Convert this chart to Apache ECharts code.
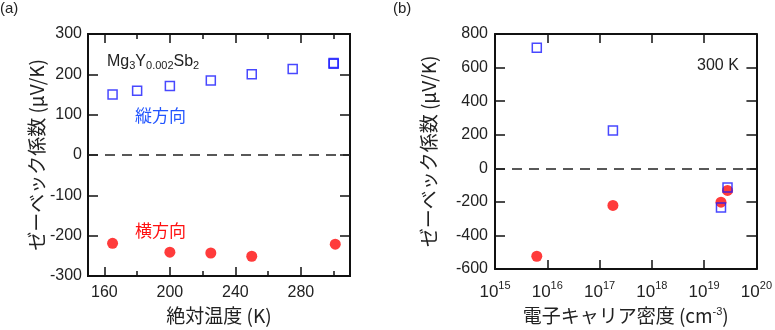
<!DOCTYPE html>
<html><head><meta charset="utf-8">
<script src="https://cdn.jsdelivr.net/npm/echarts@6/dist/echarts.min.js"></script>
<style>html,body{margin:0;padding:0;background:#fff}#c{width:775px;height:330px}</style>
</head><body><div id="c"></div>
<script>
// Panel (a): Seebeck coefficient vs temperature
const tempLong = [165, 180, 200, 225, 250, 275, 300, 300];
const seebeckLong = [150, 159, 171, 185, 200, 213, 226, 228];
const tempTrans = [165, 200, 225, 250, 301];
const seebeckTrans = [-219, -241, -243, -251, -221];
const aMajorTicks = [160, 200, 240, 280];
const aMinorTicks = [180, 220, 260, 300];
// Panel (b): Seebeck coefficient vs carrier density (300 K)
const carrierLong = [6.3e15, 1.8e17, 2.1e19, 2.8e19];
const seebeckLongB = [718, 225, -233, -115];
const carrierTrans = [6.3e15, 1.8e17, 2.1e19, 2.8e19];
const seebeckTransB = [-524, -221, -202, -132];

const LAT = '"Liberation Sans", Arial, "Noto Sans CJK JP", sans-serif';
const JP = '"Noto Sans CJK JP", "Liberation Sans", sans-serif';
const AX = '#111';
const BLUE = '#1a1aff';
const RED = '#ff0a0a';

function zip(a, b) { return a.map((v, i) => [v, b[i]]); }

const lineBase = { show: true, onZero: false, lineStyle: { color: AX, width: 2 } };

function xAxisA(pos, ticks, len) {
  return {
    type: 'value', gridIndex: 0, position: pos, min: 150, max: 310,
    axisLine: lineBase, splitLine: { show: false },
    axisTick: { show: true, inside: true, length: len, customValues: ticks, lineStyle: { color: AX, width: 1.5 } },
    axisLabel: { show: false }
  };
}

const option = {
  animation: false,
  grid: [
    { left: 88, top: 34, width: 262, height: 243 },
    { left: 495, top: 34, width: 262, height: 236 }
  ],
  xAxis: [
    {
      type: 'value', gridIndex: 0, position: 'bottom', min: 150, max: 310, interval: 10,
      axisLine: lineBase, splitLine: { show: false }, axisTick: { show: false },
      axisLabel: { show: true, margin: 9, fontSize: 16, color: '#222', fontFamily: LAT,
        showMinLabel: false, showMaxLabel: false,
        formatter: v => (aMajorTicks.indexOf(Math.round(v)) >= 0 ? String(Math.round(v)) : '') },
      name: '絶対温度 (K)', nameLocation: 'middle', nameGap: 30,
      nameTextStyle: { fontSize: 19, color: '#222', fontFamily: JP }
    },
    xAxisA('bottom', aMajorTicks, 9),
    xAxisA('bottom', aMinorTicks, 5),
    xAxisA('top', aMajorTicks, 9),
    xAxisA('top', aMinorTicks, 5),
    {
      type: 'log', logBase: 10, gridIndex: 1, position: 'bottom', min: 1e15, max: 1e20,
      axisLine: lineBase, splitLine: { show: false }, minorTick: { show: false },
      axisTick: { show: true, inside: true, length: 9, lineStyle: { color: AX, width: 1.5 } },
      axisLabel: {
        show: true, margin: 7, color: '#222', fontFamily: LAT,
        formatter: v => '{b|10}{s|' + Math.round(Math.log10(v)) + '}',
        rich: {
          b: { fontSize: 17, fontFamily: LAT, color: '#222', padding: [8, 0, 0, 0] },
          s: { fontSize: 11, fontFamily: LAT, color: '#222', padding: [0, 0, 6, 0] }
        }
      },
      name: '電子キャリア密度 (cm{s|-3})', nameLocation: 'middle', nameGap: 37,
      nameTextStyle: { fontSize: 19, color: '#222', fontFamily: JP,
        rich: { s: { fontSize: 11, fontFamily: LAT, color: '#222', padding: [0, 0, 8, 0] } } }
    },
    {
      type: 'log', logBase: 10, gridIndex: 1, position: 'top', min: 1e15, max: 1e20,
      axisLine: lineBase, splitLine: { show: false }, minorTick: { show: false },
      axisTick: { show: true, inside: true, length: 9, lineStyle: { color: AX, width: 1.5 } },
      axisLabel: { show: false }
    }
  ],
  yAxis: [
    {
      type: 'value', gridIndex: 0, position: 'left', min: -300, max: 300, interval: 100,
      axisLine: lineBase, splitLine: { show: false },
      axisTick: { show: true, inside: true, length: 10, lineStyle: { color: AX, width: 1.5 } },
      axisLabel: { margin: 6, fontSize: 16, color: '#222', fontFamily: LAT },
      name: 'ゼーベック係数 (μV/K)', nameLocation: 'middle', nameGap: 38, nameRotate: 90,
      nameTextStyle: { fontSize: 19, color: '#222', fontFamily: JP }
    },
    {
      type: 'value', gridIndex: 0, position: 'right', min: -300, max: 300, interval: 100,
      axisLine: lineBase, splitLine: { show: false },
      axisTick: { show: true, inside: true, length: 10, lineStyle: { color: AX, width: 1.5 } },
      axisLabel: { show: false }
    },
    {
      type: 'value', gridIndex: 1, position: 'left', min: -600, max: 800, interval: 200,
      axisLine: lineBase, splitLine: { show: false },
      axisTick: { show: true, inside: true, length: 10, lineStyle: { color: AX, width: 1.5 } },
      axisLabel: { margin: 7, fontSize: 16, color: '#222', fontFamily: LAT },
      name: 'ゼーベック係数 (μV/K)', nameLocation: 'middle', nameGap: 57, nameRotate: 90,
      nameTextStyle: { fontSize: 19, color: '#222', fontFamily: JP }
    },
    {
      type: 'value', gridIndex: 1, position: 'right', min: -600, max: 800, interval: 200,
      axisLine: lineBase, splitLine: { show: false },
      axisTick: { show: true, inside: true, length: 10, lineStyle: { color: AX, width: 1.5 } },
      axisLabel: { show: false }
    }
  ],
  series: [
    {
      type: 'scatter', xAxisIndex: 0, yAxisIndex: 0, data: zip(tempTrans, seebeckTrans),
      symbol: 'circle', symbolSize: 11, itemStyle: { color: RED },
      markLine: { silent: true, symbol: 'none', label: { show: false },
        lineStyle: { color: '#222', type: [10, 7], width: 1.5 }, data: [{ yAxis: 0 }] }
    },
    {
      type: 'scatter', xAxisIndex: 0, yAxisIndex: 0, data: zip(tempLong, seebeckLong),
      symbol: 'rect', symbolSize: 9, itemStyle: { color: 'rgba(0,0,0,0)', borderColor: BLUE, borderWidth: 1.5 }
    },
    {
      type: 'scatter', xAxisIndex: 5, yAxisIndex: 2, data: zip(carrierTrans, seebeckTransB),
      symbol: 'circle', symbolSize: 11, itemStyle: { color: RED },
      markLine: { silent: true, symbol: 'none', label: { show: false },
        lineStyle: { color: '#222', type: [10, 7], width: 1.5 }, data: [{ yAxis: 0 }] }
    },
    {
      type: 'scatter', xAxisIndex: 5, yAxisIndex: 2, data: zip(carrierLong, seebeckLongB),
      symbol: 'rect', symbolSize: 9, itemStyle: { color: 'rgba(0,0,0,0)', borderColor: BLUE, borderWidth: 1.5 }
    }
  ],
  graphic: [
    { type: 'text', left: 0, top: 1, style: { text: '(a)', fontSize: 15, fontFamily: LAT, fill: '#222' } },
    { type: 'text', left: 393, top: 1, style: { text: '(b)', fontSize: 15, fontFamily: LAT, fill: '#222' } },
    { type: 'text', left: 107, top: 54, style: {
      text: '{n|Mg}{s|3}{n|Y}{s|0.002}{n|Sb}{s|2}', fontFamily: LAT, fill: '#222',
      rich: { n: { fontSize: 16, fontFamily: LAT, fill: '#222' },
              s: { fontSize: 11, fontFamily: LAT, fill: '#222', padding: [7, 0, 0, 0] } } } },
    { type: 'text', left: 135, top: 107, style: { text: '縦方向', fontSize: 17, fontFamily: JP, fill: '#2255ff' } },
    { type: 'text', left: 135, top: 222, style: { text: '横方向', fontSize: 17, fontFamily: JP, fill: '#ff1010' } },
    { type: 'text', left: 697, top: 58, style: { text: '300 K', fontSize: 16, fontFamily: LAT, fill: '#222' } }
  ]
};
const chart = echarts.init(document.getElementById('c'), null, { renderer: 'canvas' });
chart.setOption(option);
</script></body></html>
